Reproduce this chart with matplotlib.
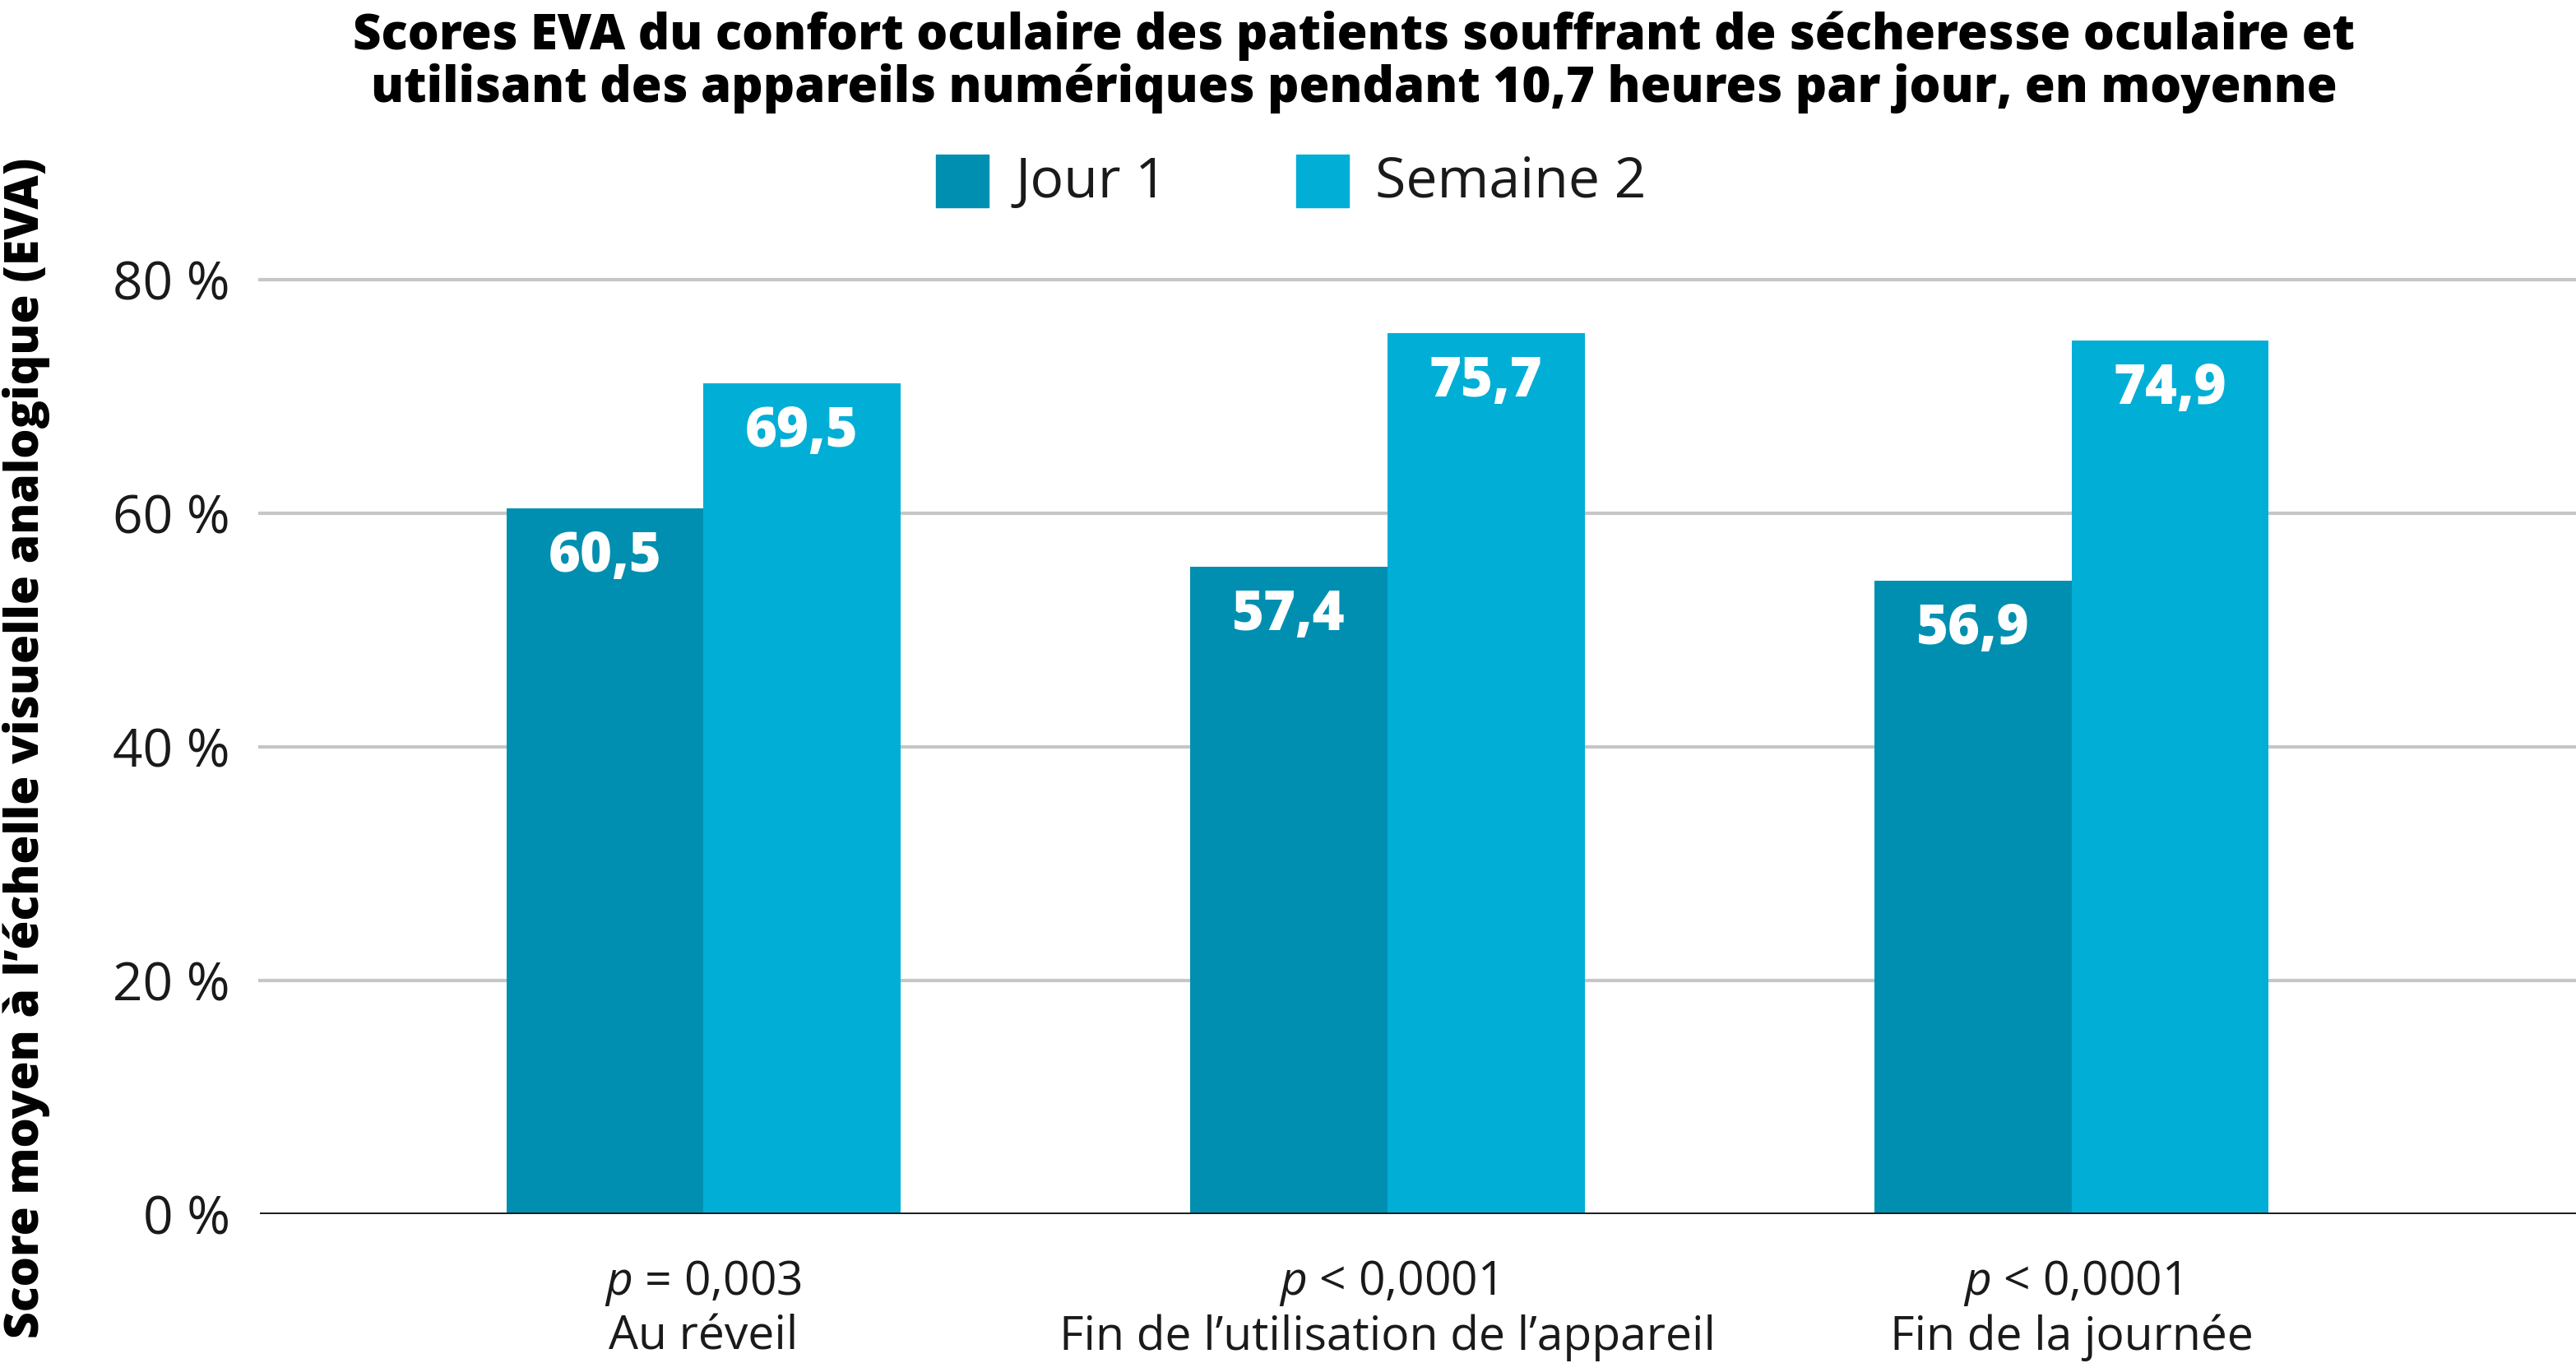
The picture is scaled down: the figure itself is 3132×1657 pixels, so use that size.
import numpy as np
import matplotlib.pyplot as plt
from matplotlib.patches import Rectangle

plt.rcParams['font.family'] = ['Open Sans', 'DejaVu Sans']
plt.rcParams['mathtext.fontset'] = 'custom'
plt.rcParams['mathtext.it'] = 'Open Sans:italic'
plt.rcParams['mathtext.rm'] = 'Open Sans'

# données
categories = ["Au réveil", "Fin de l’utilisation de l’appareil", "Fin de la journée"]
p_values = ["= 0,003", "< 0,0001", "< 0,0001"]
series = ["Jour 1", "Semaine 2"]
# hauteurs des barres telles que dessinées
jour1 = [60.4, 55.4, 54.2]
semaine2 = [71.1, 75.4, 74.8]
# étiquettes affichées
jour1_labels = ["60,5", "57,4", "56,9"]
semaine2_labels = ["69,5", "75,7", "74,9"]
yticks = [0, 20, 40, 60, 80]

dark = "#008fb0"
light = "#00aed6"

fig = plt.figure(figsize=(31.32, 16.57), dpi=100)
ax = fig.add_axes([0.1009, 0.1092, 0.8991, 0.6858])

x = np.arange(len(categories))
w = 0.288
b1 = ax.bar(x - w / 2, jour1, w, color=dark, zorder=3)
b2 = ax.bar(x + w / 2, semaine2, w, color=light, zorder=3)

for bars, labels in ((b1, jour1_labels), (b2, semaine2_labels)):
    for bar, lab in zip(bars, labels):
        ax.annotate(lab, (bar.get_x() + bar.get_width() / 2, bar.get_height()),
                    xytext=(0, -43), textcoords="offset points",
                    ha="center", va="center", color="white",
                    fontsize=48, fontweight="heavy", zorder=4)

ax.set_xlim(-0.648, 2.737)
ax.set_ylim(0, 80)
ax.set_yticks(yticks)
ax.set_yticklabels([f"{t} %" for t in yticks], fontsize=46, color="#1a1a1a")
ax.tick_params(axis="y", length=0, pad=26)
ax.tick_params(axis="x", length=0)
ax.set_xticks(x)
ax.set_xticklabels([])
for yt in yticks[1:]:
    ax.axhline(yt, color="#c6c6c6", lw=3, zorder=1, clip_on=False)
ax.axhline(0, color="#1a1a1a", lw=3.5, zorder=5)
for s in ax.spines.values():
    s.set_visible(False)

trans = ax.get_xaxis_transform()
for xi, cat, pv in zip(x, categories, p_values):
    ax.text(xi, -84 / 1136.4, r"$\it{p}$ " + pv, transform=trans,
            ha="center", va="center", fontsize=41, color="#1a1a1a")
    ax.text(xi, -150 / 1136.4, cat, transform=trans,
            ha="center", va="center", fontsize=41, color="#1a1a1a")

fig.text(0.0102, 0.451, "Score moyen à l’échelle visuelle analogique (EVA)",
         rotation=90, ha="center", va="center", fontsize=41, fontweight="heavy")

fig.text(0.5255, 0.992,
         "Scores EVA du confort oculaire des patients souffrant de sécheresse oculaire et\n"
         "utilisant des appareils numériques pendant 10,7 heures par jour, en moyenne",
         ha="center", va="top", fontsize=43, fontweight="heavy", linespacing=1.05)

# légende
for (x0, col, lab) in ((1138, dark, "Jour 1"), (1576, light, "Semaine 2")):
    fig.patches.append(Rectangle((x0 / 3132, 1 - 252 / 1657), 64 / 3132, 64 / 1657,
                                 transform=fig.transFigure, color=col))
    fig.text((x0 + 96) / 3132, 1 - 222 / 1657, lab, ha="left", va="center",
             fontsize=49, color="#1a1a1a")

fig.savefig("out.png", dpi=100)
